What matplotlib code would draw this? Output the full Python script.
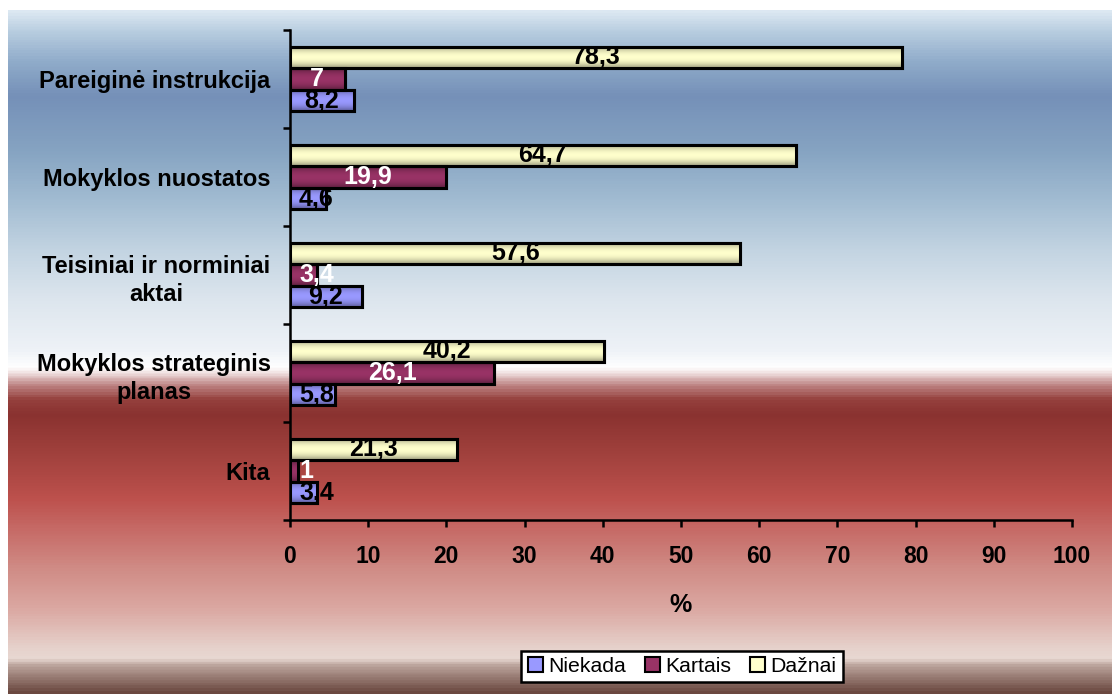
import numpy as np
import matplotlib.pyplot as plt
from matplotlib.colors import LinearSegmentedColormap, to_rgb

plt.rcParams['font.family'] = ['Liberation Sans', 'DejaVu Sans']

# data
categories = ['Pareiginė instrukcija', 'Mokyklos nuostatos',
              'Teisiniai ir norminiai\naktai', 'Mokyklos strateginis\nplanas', 'Kita']
series = ['Niekada', 'Kartais', 'Dažnai']
niekada = [8.2, 4.6, 9.2, 5.8, 3.4]
kartais = [7, 19.9, 3.4, 26.1, 1]
daznai = [78.3, 64.7, 57.6, 40.2, 21.3]
x_ticks = [0, 10, 20, 30, 40, 50, 60, 70, 80, 90, 100]
x_label = '%'

colors = ['#9999ff', '#993366', '#ffffcc']
label_colors = ['black', 'white', 'black']

W, H = 1112, 694
fig = plt.figure(figsize=(W / 100, H / 100), dpi=100)
fig.patch.set_facecolor('white')

# background gradient (blue on top, white band, red below)
stops = [
    (0.000, '#dce8f2'), (0.029, '#b8cde0'), (0.073, '#90acca'), (0.124, '#7590b8'),
    (0.205, '#86a4c2'), (0.278, '#a2bcd2'), (0.351, '#c3d4e2'), (0.424, '#dde6ee'),
    (0.497, '#eef2f7'), (0.523, '#ffffff'), (0.529, '#f4e8e8'), (0.548, '#c08888'),
    (0.570, '#95403d'), (0.592, '#8a3230'), (0.658, '#a4433f'), (0.716, '#bd514d'),
    (0.760, '#c66a66'), (0.819, '#d08c86'), (0.877, '#dba8a2'), (0.936, '#e6d2cc'),
    (0.950, '#e8d8d2'), (0.962, '#b8a098'), (1.000, '#6b4840'),
]
bg_cmap = LinearSegmentedColormap.from_list('bg', stops)
bg = fig.add_axes([8 / W, 0, 1 - 8 / W, (H - 10) / H], zorder=-1)
bg.imshow(np.linspace(0, 1, 700).reshape(-1, 1), cmap=bg_cmap, aspect='auto',
          extent=[0, 1, 0, 1], origin='upper')
bg.axis('off')

ax = fig.add_axes([290 / W, (H - 520) / H, 782 / W, 490 / H])
ax.patch.set_alpha(0)

h = 0.22
y = np.arange(len(categories))
offsets = [h, 0, -h]
values = [niekada, kartais, daznai]

t = np.linspace(0, 1, 60)
shade = 1 - 0.4 * np.abs(2 * t - 1) ** 2

bar_sets = []
for vals, off, col, name in zip(values, offsets, colors, series):
    bars = ax.barh(y + off, vals, height=h, color=col, edgecolor='black',
                   linewidth=2.2, label=name, zorder=2)
    bar_sets.append(bars)
    base = np.array(to_rgb(col))
    img = (shade[:, None] * base[None, :])[:, None, :]
    for p in bars:
        x0, y0 = p.get_x(), p.get_y()
        im = ax.imshow(img, extent=[x0, x0 + p.get_width(), y0, y0 + p.get_height()],
                       aspect='auto', zorder=2.5, interpolation='bilinear')
        im.set_clip_path(p)
    ax.barh(y + off, vals, height=h, facecolor='none', edgecolor='black',
            linewidth=2.2, zorder=3)

ax.set_xlim(0, 100)
ax.set_ylim(len(categories) - 0.5, -0.5)

for s in ['top', 'right']:
    ax.spines[s].set_visible(False)
for s in ['left', 'bottom']:
    ax.spines[s].set_linewidth(1.8)

ax.set_xticks(x_ticks)
ax.set_xticklabels([str(v) for v in x_ticks], fontsize=16.5, fontweight='bold')
ax.tick_params(axis='x', length=5, width=1.8, pad=13)

ax.set_yticks(np.arange(len(categories) + 1) - 0.5)
ax.set_yticklabels([])
ax.tick_params(axis='y', which='major', length=5, width=1.8)
ax.set_yticks(y, minor=True)
ax.set_yticklabels(categories, minor=True, fontsize=17, fontweight='bold',
                   multialignment='center', linespacing=1.3)
ax.tick_params(axis='y', which='minor', length=0, pad=14)

ax.set_xlabel(x_label, fontsize=18, fontweight='bold', labelpad=18)

# value labels, centred in the bar but kept clear of the axis
fig.canvas.draw()
renderer = fig.canvas.get_renderer()
left_px = ax.transData.transform((0, 0))[0] + 9
for bars, vals, lc in zip(bar_sets, values, label_colors):
    for p, v in zip(bars, vals):
        yc = p.get_y() + p.get_height() / 2
        txt = ax.text(v / 2, yc, f'{v:g}'.replace('.', ','), ha='center', va='center',
                      fontsize=18, fontweight='bold', color=lc, zorder=5)
        w = txt.get_window_extent(renderer).width
        cx = ax.transData.transform((v / 2, yc))[0]
        if cx - w / 2 < left_px:
            nx = ax.transData.inverted().transform((left_px + w / 2, 0))[0]
            txt.set_x(nx)

leg = fig.legend(handles=bar_sets, labels=series, loc='center',
                 bbox_to_anchor=(682 / W, 1 - 666.5 / H), ncol=3, fontsize=15.3,
                 frameon=True, fancybox=False, edgecolor='black', framealpha=1,
                 handlelength=0.7, handleheight=0.7, handletextpad=0.25,
                 columnspacing=0.9, borderpad=0.3)
leg.get_frame().set_linewidth(1.8)
for hdl in leg.legend_handles:
    hdl.set_linewidth(1.5)

fig.savefig('out.png', dpi=100)
